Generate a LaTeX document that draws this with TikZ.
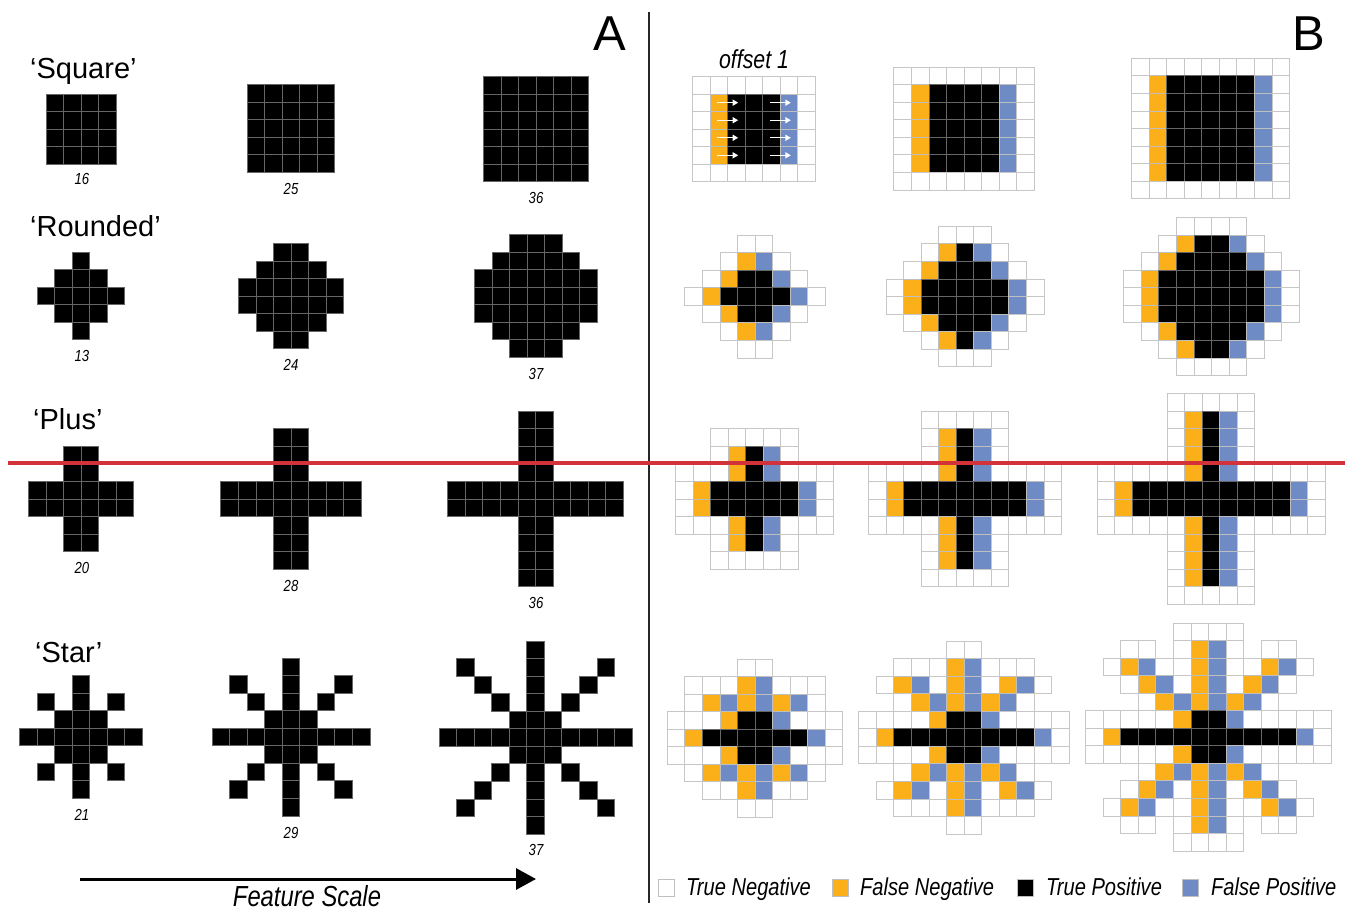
\documentclass[tikz,border=0pt]{standalone}
\usepackage{fontspec}
\setmainfont{Liberation Sans}
\newfontfamily\nit{Liberation Sans}[FakeStretch=0.82]
\usetikzlibrary{arrows.meta}
\definecolor{fnc}{HTML}{FBAF19}
\definecolor{fpc}{HTML}{6E8BC6}
\definecolor{redl}{HTML}{D2323A}
\tikzset{
  kcell/.style={fill=black, draw=black!60, line width=0.8pt},
  wcell/.style={fill=white, draw=black!22, line width=0.8pt},
  ocell/.style={fill=fnc, draw=black!25, line width=0.8pt},
  bcell/.style={fill=fpc, draw=black!25, line width=0.8pt},
  shapelab/.style={inner sep=0pt, anchor=base west, font=\fontsize{29}{32}\selectfont},
  panellab/.style={inner sep=0pt, anchor=base west, font=\fontsize{49}{52}\selectfont},
  numlab/.style={inner sep=0pt, anchor=base, font=\nit\itshape\fontsize{16}{18}\selectfont},
  leglab/.style={inner sep=0pt, anchor=base west, font=\nit\itshape\fontsize{24.5}{28}\selectfont},
  legbox/.style={draw=black!25, line width=0.8pt},
  warrow/.style={draw=white, line width=1.4pt, -{Triangle[length=5.5pt,width=6pt]}},
}
\newcount\gcol
\newcount\grow
\def\gs{17.55}
\newcommand\drawcell[1]{%
  \if#1K\path[kcell] (\gxo+\the\gcol*\gs,\gyo+\the\grow*\gs) rectangle ++(\gs,\gs);\fi
  \if#1W\path[wcell] (\gxo+\the\gcol*\gs,\gyo+\the\grow*\gs) rectangle ++(\gs,\gs);\fi
  \if#1O\path[ocell] (\gxo+\the\gcol*\gs,\gyo+\the\grow*\gs) rectangle ++(\gs,\gs);\fi
  \if#1B\path[bcell] (\gxo+\the\gcol*\gs,\gyo+\the\grow*\gs) rectangle ++(\gs,\gs);\fi
}
\def\parserow#1{\gcol=0 \parserowaux#1\relax}
\def\parserowaux#1{\ifx\relax#1\else\drawcell{#1}\advance\gcol by 1 \expandafter\parserowaux\fi}
\newcommand\grid[5]{%
  \pgfmathsetmacro\gxo{#1-#3*\gs/2}%
  \pgfmathsetmacro\gyo{#2-#4*\gs/2}%
  \foreach \rr [count=\ri from 0] in {#5}{\grow=\ri\relax\expandafter\parserow\expandafter{\rr}}%
}
\begin{document}
\begin{tikzpicture}[x=1pt,y=-1pt]
\fill[white] (0,0) rectangle (1353,911);
\useasboundingbox (0,0) rectangle (1353,911);

% ---------------- Panel A ----------------
\node[panellab] (labA) at (593,50) {A};
\node[shapelab] (nsq) at (30,78) {‘Square’};
\node[shapelab] (nrd) at (30,236) {‘Rounded’};
\node[shapelab] (npl) at (33,429) {‘Plus’};
\node[shapelab] (nst) at (35,662) {‘Star’};

% Square
\grid{81}{129}{4}{4}{KKKK,KKKK,KKKK,KKKK}
\grid{291}{128.5}{5}{5}{KKKKK,KKKKK,KKKKK,KKKKK,KKKKK}
\grid{536}{129}{6}{6}{KKKKKK,KKKKKK,KKKKKK,KKKKKK,KKKKKK,KKKKKK}
\node[numlab] (s16) at (82,184.5) {16};
\node[numlab] (s25) at (291,194) {25};
\node[numlab] (s36) at (536,203) {36};

% Rounded
\grid{81}{296}{5}{5}{--K--,-KKK-,KKKKK,-KKK-,--K--}
\grid{291}{296}{6}{6}{--KK--,-KKKK-,KKKKKK,KKKKKK,-KKKK-,--KK--}
\grid{536}{296}{7}{7}{--KKK--,-KKKKK-,KKKKKKK,KKKKKKK,KKKKKKK,-KKKKK-,--KKK--}
\node[numlab] (r13) at (82,361) {13};
\node[numlab] (r24) at (291,370) {24};
\node[numlab] (r37) at (536,379) {37};

% Plus
\grid{81}{499}{6}{6}{--KK--,--KK--,KKKKKK,KKKKKK,--KK--,--KK--}
\grid{291}{499}{8}{8}{---KK---,---KK---,---KK---,KKKKKKKK,KKKKKKKK,---KK---,---KK---,---KK---}
\grid{535.5}{499}{10}{10}{----KK----,----KK----,----KK----,----KK----,KKKKKKKKKK,KKKKKKKKKK,----KK----,----KK----,----KK----,----KK----}
\node[numlab] (p20) at (82,573) {20};
\node[numlab] (p28) at (291,591) {28};
\node[numlab] (p36) at (536,608) {36};

% Star
\grid{81}{737}{7}{7}{---K---,-K-K-K-,--KKK--,KKKKKKK,--KKK--,-K-K-K-,---K---}
\grid{291}{737}{9}{9}{----K----,-K--K--K-,--K-K-K--,---KKK---,KKKKKKKKK,---KKK---,--K-K-K--,-K--K--K-,----K----}
\grid{535.5}{737.5}{11}{11}{-----K-----,-K---K---K-,--K--K--K--,---K-K-K---,----KKK----,KKKKKKKKKKK,----KKK----,---K-K-K---,--K--K--K--,-K---K---K-,-----K-----}
\node[numlab] (t21) at (82,820) {21};
\node[numlab] (t29) at (291,838) {29};
\node[numlab] (t37) at (536,855) {37};

% Feature scale arrow
\coordinate (fsA) at (80,879);
\coordinate (fsB) at (536,879);
\draw[line width=3pt, -{Triangle[length=20pt,width=21pt]}] (fsA) -- (fsB);
\node[inner sep=0pt, anchor=base, font=\nit\itshape\fontsize{29}{31}\selectfont] (fs) at (307,906) {Feature Scale};

% divider
\coordinate (dvT) at (649,12);
\coordinate (dvB) at (649,903);
\draw[line width=1.2pt, black!85] (dvT) -- (dvB);

% ---------------- Panel B ----------------
\node[panellab] (labB) at (1292,50) {B};
\node[inner sep=0pt, anchor=base, font=\nit\itshape\fontsize{26}{28}\selectfont] (off) at (754,68) {offset 1};

% Square B
\grid{754}{129}{7}{6}{WWWWWWW,WOKKKBW,WOKKKBW,WOKKKBW,WOKKKBW,WWWWWWW}
\grid{964}{128.5}{8}{7}{WWWWWWWW,WOKKKKBW,WOKKKKBW,WOKKKKBW,WOKKKKBW,WOKKKKBW,WWWWWWWW}
\grid{1210.5}{128.5}{9}{8}{WWWWWWWWW,WOKKKKKBW,WOKKKKKBW,WOKKKKKBW,WOKKKKKBW,WOKKKKKBW,WOKKKKKBW,WWWWWWWWW}
\foreach \r in {1,2,3,4}{
  \coordinate (a\r s) at (692.575+1.4*\gs, 76.35+\r*\gs+0.5*\gs);
  \coordinate (a\r e) at (692.575+2.6*\gs, 76.35+\r*\gs+0.5*\gs);
  \coordinate (b\r s) at (692.575+4.4*\gs, 76.35+\r*\gs+0.5*\gs);
  \coordinate (b\r e) at (692.575+5.6*\gs, 76.35+\r*\gs+0.5*\gs);
  \draw[warrow] (a\r s) -- (a\r e);
  \draw[warrow] (b\r s) -- (b\r e);
}

% Rounded B
\grid{755}{296.5}{8}{7}{---WW---,--WOBW--,-WOKKBW-,WOKKKKBW,-WOKKBW-,--WOBW--,---WW---}
\grid{965}{296.5}{9}{8}{---WWW---,--WOKBW--,-WOKKKBW-,WOKKKKKBW,WOKKKKKBW,-WOKKKBW-,--WOKBW--,---WWW---}
\grid{1211.5}{296.5}{10}{9}{---WWWW---,--WOKKBW--,-WOKKKKBW-,WOKKKKKKBW,WOKKKKKKBW,WOKKKKKKBW,-WOKKKKBW-,--WOKKBW--,---WWWW---}

% Plus B
\grid{754.5}{499}{9}{8}{--WWWWW--,--WOKBW--,WWWOKBWWW,WOKKKKKBW,WOKKKKKBW,WWWOKBWWW,--WOKBW--,--WWWWW--}
\grid{965}{499}{11}{10}{---WWWWW---,---WOKBW---,---WOKBW---,WWWWOKBWWWW,WOKKKKKKKBW,WOKKKKKKKBW,WWWWOKBWWWW,---WOKBW---,---WOKBW---,---WWWWW---}
\grid{1211}{499}{13}{12}{----WWWWW----,----WOKBW----,----WOKBW----,----WOKBW----,WWWWWOKBWWWWW,WOKKKKKKKKKBW,WOKKKKKKKKKBW,WWWWWOKBWWWWW,----WOKBW----,----WOKBW----,----WOKBW----,----WWWWW----}

% Star B
\grid{755}{738}{10}{9}{----WW----,-WWWOBWWW-,-WOBOBOBW-,WWWOKKBWWW,WOKKKKKKBW,WWWOKKBWWW,-WOBOBOBW-,--WWOBWW--,----WW----}
\grid{964}{737.5}{12}{11}{-----WW-----,--WWWOBWWW--,-WOBWOBWOBW-,--WOBOBOBW--,WWWWOKKBWWWW,WOKKKKKKKKBW,WWWWOKKBWWWW,--WOBOBOBW--,-WOBWOBWOBW-,--WWWOBWWW--,-----WW-----}
\grid{1208.5}{737}{14}{13}{-----WWWW-----,--WW-WOBW-WW--,-WOBWWOBWWOBW-,--WOBWOBWOBW--,---WOBOBOBW---,WWWWWOKKBWWWWW,WOKKKKKKKKKKBW,WWWWWOKKBWWWWW,---WOBOBOBW---,--WOBWOBWOBW--,-WOBWWOBWWOBW-,--WW-WOBW-WW--,-----WWWW-----}

% Legend
\path[legbox, fill=white] (658,879) rectangle (674.5,896);
\node[leglab] (ltn) at (686,895) {True Negative};
\path[legbox, fill=fnc] (832,879) rectangle (848.5,896);
\node[leglab] (lfn) at (860,895) {False Negative};
\path[legbox, fill=black] (1017,879) rectangle (1033.5,896);
\node[leglab] (ltp) at (1046,895) {True Positive};
\path[legbox, fill=fpc] (1182,879) rectangle (1198.5,896);
\node[leglab] (lfp) at (1211,895) {False Positive};

% Red line
\coordinate (rlA) at (8,463);
\coordinate (rlB) at (1345,463);
\draw[redl, line width=3.5pt] (rlA) -- (rlB);
\end{tikzpicture}
\end{document}
